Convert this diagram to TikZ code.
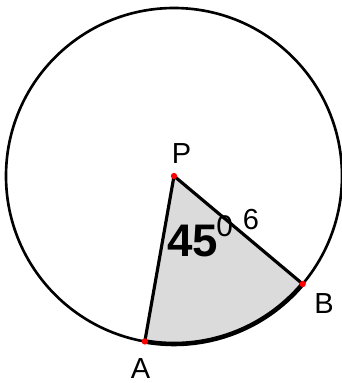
\documentclass[tikz,border=0pt]{standalone}
\usepackage{fontspec}
\setmainfont{Liberation Sans}
\usetikzlibrary{calc}

\begin{document}
\begin{tikzpicture}[
    x=0.02cm,
    y=0.02cm,
    rim/.style={
        draw=black,
        line width=1.5pt
    },
    sector/.style={
        draw=black,
        fill=black!14,
        line width=1.8pt,
        line join=round
    },
    ptdot/.style={
        circle,
        fill=red,
        inner sep=0pt,
        minimum size=3.6pt
    },
    ptlabel/.style={
        inner sep=0pt,
        font=\fontsize{16.5}{16.5}\selectfont
    }
]

    \useasboundingbox (0,0) rectangle (342,383);

    % ==========================================
    % POINTS
    % ==========================================

    \coordinate (P) at (174,207);
    \coordinate (A) at ($(P)+(260:168)$);
    \coordinate (B) at ($(P)+(320:168)$);

    % ==========================================
    % CIRCLE AND SECTOR
    % ==========================================

    \draw[rim] (P) circle[radius=168];
    \draw[sector] (P) -- (A) arc[start angle=260, end angle=320, radius=168] -- cycle;

    % heavier arc A to B
    \draw[line width=2.6pt] (A) arc[start angle=260, end angle=320, radius=168];

    \node[ptdot] (Pdot) at (P) {};
    \node[ptdot] (Adot) at (A) {};
    \node[ptdot] (Bdot) at (B) {};

    % ==========================================
    % LABELS
    % ==========================================

    \node[ptlabel] (Plbl) at (181.5,229.5) {P};
    \node[ptlabel] (Albl) at (140.5,14.5) {A};
    \node[ptlabel] (Blbl) at (324,79) {B};
    \node[ptlabel] (radlbl) at (251,163) {6};
    \node[anchor=base west, inner sep=0pt, font=\fontsize{26}{26}\selectfont\bfseries] (anglbl) at (167,127) {45\hspace{-1pt}\raisebox{11pt}{\fontsize{17}{17}\selectfont\mdseries 0}};

\end{tikzpicture}
\end{document}
